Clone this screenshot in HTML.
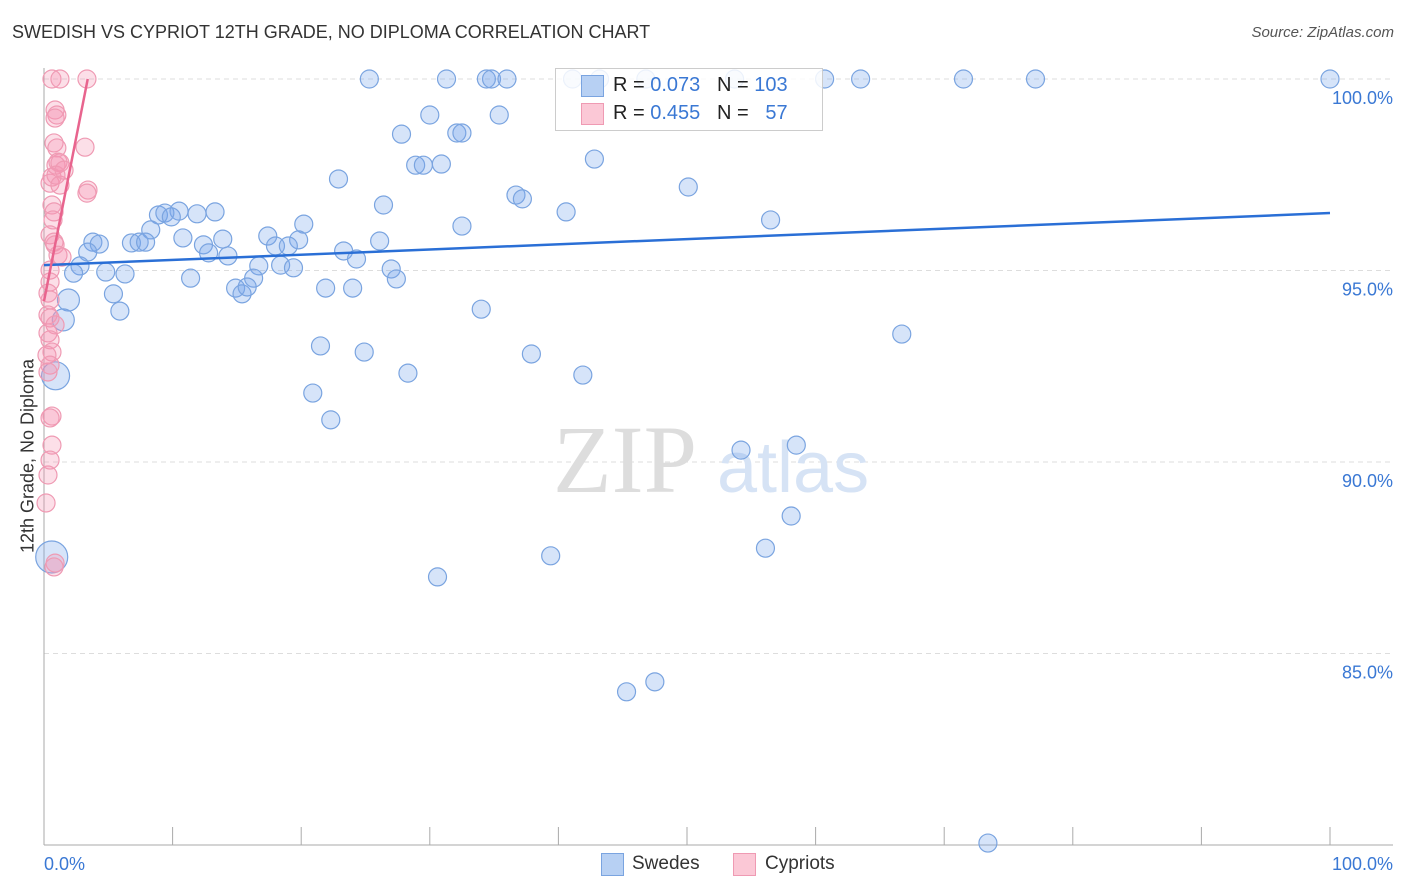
<!DOCTYPE html>
<html><head><meta charset="utf-8"><style>
body{margin:0;background:#fff;font-family:"Liberation Sans",sans-serif;}
#wrap{position:relative;width:1406px;height:892px;overflow:hidden;}
.t{position:absolute;white-space:nowrap;}
</style></head><body>
<div id="wrap">
<div class="t" style="left:12px;top:22px;font-size:18px;color:#333;">SWEDISH VS CYPRIOT 12TH GRADE, NO DIPLOMA CORRELATION CHART</div>
<div class="t" style="right:12px;top:24px;font-size:15px;color:#555;font-style:italic;">Source: ZipAtlas.com</div>
<div class="t" style="left:28px;top:456px;font-size:18px;color:#333;transform:translate(-50%,-50%) rotate(-90deg);">12th Grade, No Diploma</div>
<svg id="svg" width="1406" height="892" style="position:absolute;left:0;top:0;"></svg>
<div style="position:absolute;left:555px;top:68px;width:266px;height:61px;border:1px solid #ccc;background:rgba(255,255,255,0.85);"></div>
<div style="position:absolute;left:581px;top:75px;width:21px;height:20px;background:#b7d0f3;border:1px solid #7aa4e0;"></div>
<div style="position:absolute;left:581px;top:103px;width:21px;height:20px;background:#fbc8d6;border:1px solid #ef9ab3;"></div>
<div class="t" style="left:613px;top:74px;font-size:20px;color:#222;">R = <span style="color:#3a78d4">0.073</span>&nbsp;&nbsp;&nbsp;N = <span style="color:#3a78d4">103</span></div>
<div class="t" style="left:613px;top:102px;font-size:20px;color:#222;">R = <span style="color:#3a78d4">0.455</span>&nbsp;&nbsp;&nbsp;N = &nbsp;&nbsp;<span style="color:#3a78d4">57</span></div>
<div style="position:absolute;left:601px;top:853px;width:21px;height:21px;background:#b7d0f3;border:1px solid #7aa4e0;"></div>
<div class="t" style="left:632px;top:853px;font-size:19px;color:#333;">Swedes</div>
<div style="position:absolute;left:733px;top:853px;width:21px;height:21px;background:#fbc8d6;border:1px solid #ef9ab3;"></div>
<div class="t" style="left:765px;top:853px;font-size:19px;color:#333;">Cypriots</div>
</div>
<script>
const yTicks=[100,95,90,85];
const yTickLabels=["100.0%","95.0%","90.0%","85.0%"];
const xLabels=["0.0%","100.0%"];
const blueX=[25.3,31.3,34.4,34.8,36.0,41.1,43.2,46.8,53.7,60.7,63.5,71.5,77.1,100,30.0,35.4,27.8,32.1,32.5,42.8,28.9,29.5,30.9,22.9,50.1,36.7,37.2,26.4,40.6,56.5,32.5,20.2,13.3,10.5,11.9,8.9,9.4,9.9,8.3,10.8,13.9,17.4,19.8,26.1,12.4,18.0,19.0,6.8,7.4,7.9,3.8,4.3,3.4,12.8,14.3,23.3,24.3,2.8,2.3,4.8,6.3,16.7,18.4,19.4,27.0,27.4,11.4,16.3,14.9,15.4,15.8,21.9,24.0,5.4,1.9,5.9,34.0,1.5,66.7,21.5,24.9,37.9,28.3,41.9,0.9,20.9,22.3,54.2,58.5,58.1,56.1,39.4,30.6,0.6,47.5,45.3,73.4];
const blueY=[100,100,100,100,100,100,100,100,100,100,100,100,100,100,99.06,99.06,98.56,98.59,98.59,97.91,97.75,97.75,97.78,97.39,97.18,96.97,96.87,96.71,96.53,96.32,96.16,96.21,96.53,96.55,96.48,96.45,96.5,96.4,96.06,95.85,95.82,95.9,95.8,95.77,95.67,95.64,95.64,95.72,95.74,95.74,95.74,95.69,95.48,95.46,95.38,95.51,95.3,95.12,94.93,94.96,94.91,95.12,95.14,95.07,95.04,94.78,94.8,94.8,94.54,94.39,94.57,94.54,94.54,94.39,94.23,93.94,93.99,93.71,93.34,93.03,92.87,92.82,92.32,92.27,92.25,91.8,91.1,90.31,90.44,88.59,87.75,87.55,87.0,87.52,84.26,84.0,80.05];
const blueR=[9,9,9,9,9,9,9,9,9,9,9,9,9,9,9,9,9,9,9,9,9,9,9,9,9,9,9,9,9,9,9,9,9,9,9,9,9,9,9,9,9,9,9,9,9,9,9,9,9,9,9,9,9,9,9,9,9,9,9,9,9,9,9,9,9,9,9,9,9,9,9,9,9,9,11,9,9,11,9,9,9,9,9,9,14,9,9,9,9,9,9,9,9,16,9,9,9];
const pinkX=[0.62,1.24,3.34,0.86,1.0,0.86,0.78,1.0,0.93,1.09,1.24,0.47,0.62,0.93,1.24,1.56,3.19,3.42,3.34,0.62,0.78,0.7,0.47,0.78,0.86,1.09,1.4,0.47,0.47,0.31,0.47,0.31,0.47,0.86,0.31,0.47,0.62,0.23,0.47,0.31,0.62,0.47,0.62,0.47,0.31,0.16,0.86,0.78];
const pinkY=[100,100,100,99.19,99.06,98.98,98.33,98.2,97.75,97.83,97.81,97.28,97.44,97.49,97.23,97.62,98.22,97.1,97.02,96.71,96.53,96.32,95.93,95.74,95.67,95.4,95.35,95.01,94.7,94.41,94.23,93.84,93.76,93.58,93.37,93.19,92.87,92.79,92.53,92.35,91.2,91.15,90.44,90.05,89.66,88.93,87.36,87.26];
const blueTrend=[95.14,96.5];
const pinkTrend=[[0,94.2],[3.4,100]];
const X=v=>44+v*12.86, Y=v=>79+(100-v)*38.3;
const svg=document.getElementById('svg'), NS='http://www.w3.org/2000/svg';
function mk(t,a){const e=document.createElementNS(NS,t);for(const k in a)e.setAttribute(k,a[k]);svg.appendChild(e);return e;}
yTicks.forEach((v,i)=>{
 const g=mk('line',{x1:44,x2:1393,y1:Y(v),y2:Y(v),stroke:'#ddd','stroke-dasharray':'5,4'});
 
 
 const t=mk('text',{x:1393,y:Y(v)+25,'text-anchor':'end','font-size':18,fill:'#3a78d4','font-family':'Liberation Sans, sans-serif'});
 t.textContent=yTickLabels[i];
 
 
});
const ax=mk('line',{x1:44,x2:44,y1:68,y2:845,stroke:'#aaa'});


const bx=mk('line',{x1:44,x2:1393,y1:845,y2:845,stroke:'#aaa'});


for(let i=1;i<=10;i++){const tk=mk('line',{x1:X(i*10),x2:X(i*10),y1:827,y2:845,stroke:'#aaa'});
 
 }
[[0,'start',44],[100,'end',1393]].forEach((d,i)=>{const t=mk('text',{x:d[2],y:870,'text-anchor':d[1],'font-size':18,fill:'#3a78d4','font-family':'Liberation Sans, sans-serif'});t.textContent=xLabels[i];
 
 });
const w1=mk('text',{x:553,y:492,'font-size':96,fill:'#ddd','font-family':'Liberation Serif, serif'});w1.textContent='ZIP';


const w2=mk('text',{x:717,y:492,'font-size':72,fill:'#d6e3f5','font-family':'Liberation Sans, sans-serif'});w2.textContent='atlas';


blueX.forEach((x,i)=>{const c=mk('circle',{cx:X(x),cy:Y(blueY[i]),r:blueR[i],fill:'rgba(120,165,235,0.3)',stroke:'#7aa4e0','stroke-width':1.2});
 
 });
pinkX.forEach((x,i)=>{const c=mk('circle',{cx:X(x),cy:Y(pinkY[i]),r:9,fill:'rgba(245,150,180,0.3)',stroke:'#ef9ab3','stroke-width':1.2});
 
 });
const bl=mk('line',{x1:X(0),y1:Y(blueTrend[0]),x2:X(100),y2:Y(blueTrend[1]),stroke:'#2a6fd6','stroke-width':2.5});


const pl=mk('line',{x1:X(pinkTrend[0][0]),y1:Y(pinkTrend[0][1]),x2:X(pinkTrend[1][0]),y2:Y(pinkTrend[1][1]),stroke:'#e8648e','stroke-width':2.5});


</script>
</body></html>
